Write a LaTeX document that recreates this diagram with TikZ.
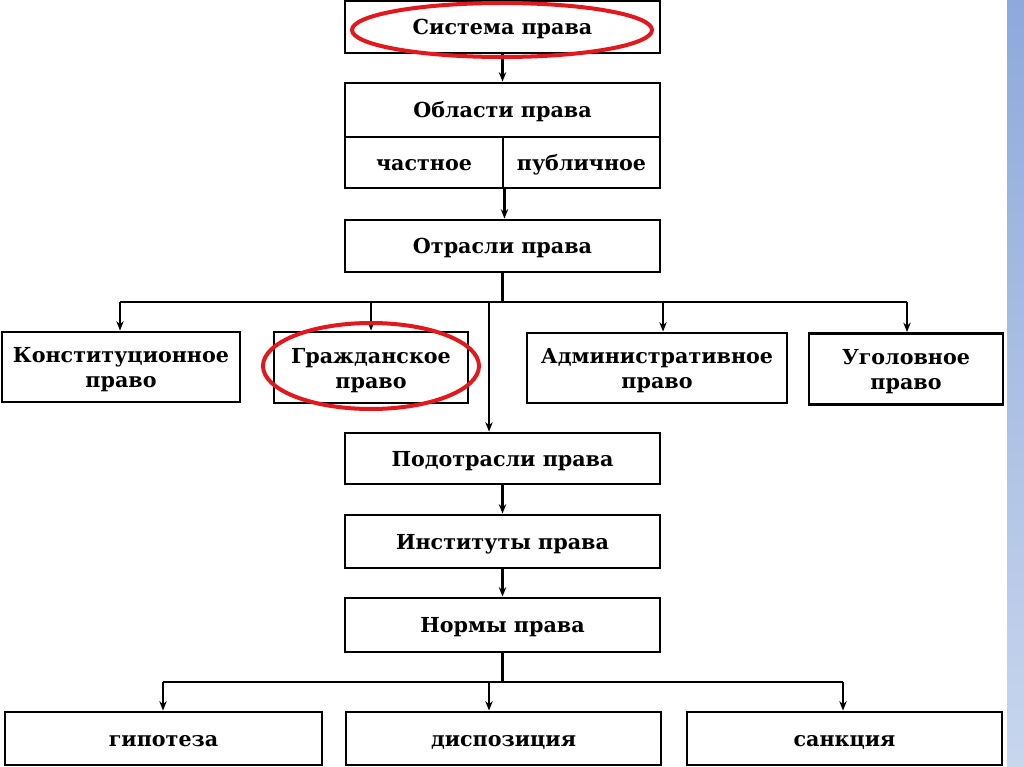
\documentclass[tikz,border=0pt]{standalone}
\usepackage{fontspec}
\setmainfont{DejaVu Serif}
\usetikzlibrary{arrows.meta}
\definecolor{stripTop}{RGB}{142,169,219}
\definecolor{stripBot}{RGB}{200,214,238}
\definecolor{ringred}{RGB}{226,24,28}
\newcommand{\toppad}{\rule{0pt}{15.5pt}}
\tikzset{
  box/.style={draw=black, line width=2.2pt, rectangle, inner sep=0pt, align=center,
    font=\fontsize{15.5}{19}\selectfont\bfseries},
  single/.style={box, text height=13pt, text depth=1.5pt},
  wire/.style={line width=2.2pt, draw=black},
  arr/.style={wire, -{Stealth[length=7pt,width=5.5pt]}},
  ring/.style={draw=ringred, line width=3pt},
}
\begin{document}
\begin{tikzpicture}[x=0.75pt,y=-0.75pt]
\useasboundingbox (0,0) rectangle (1024,767);
\fill[white] (0,0) rectangle (1024,767);
\shade[top color=stripTop, bottom color=stripBot] (1007,0) rectangle (1024,767);

% main column
\node[single, minimum width=315*0.75pt, minimum height=52*0.75pt] (sys) at (502.5,27) {Система права};
\node[single, minimum width=315*0.75pt, minimum height=54*0.75pt] (obl) at (502.5,110) {Области права};
\node[single, minimum width=158*0.75pt, minimum height=51*0.75pt] (chast) at (424,162.5) {частное};
\node[single, minimum width=157*0.75pt, minimum height=51*0.75pt] (publ) at (581.5,162.5) {публичное};
\node[single, minimum width=315*0.75pt, minimum height=52*0.75pt] (otr) at (502.5,246) {Отрасли права};

% branches
\node[box, minimum width=238*0.75pt, minimum height=70*0.75pt] (konst) at (121,367) {\toppad Конституционное\\право};
\node[box, minimum width=194*0.75pt, minimum height=71*0.75pt] (grazh) at (371,367.5) {\toppad Гражданское\\право};
\node[box, minimum width=260*0.75pt, minimum height=70*0.75pt] (adm) at (657,368) {\toppad Административное\\право};
\node[box, minimum width=194*0.75pt, minimum height=71*0.75pt] (ugol) at (906,369) {\toppad Уголовное\\право};

\node[single, minimum width=315*0.75pt, minimum height=51*0.75pt] (podotr) at (502.5,458.5) {Подотрасли права};
\node[single, minimum width=315*0.75pt, minimum height=53*0.75pt] (inst) at (502.5,541.5) {Институты права};
\node[single, minimum width=315*0.75pt, minimum height=54*0.75pt] (norm) at (502.5,625) {Нормы права};

\node[single, minimum width=317*0.75pt, minimum height=53*0.75pt] (gip) at (163.5,738.5) {гипотеза};
\node[single, minimum width=315*0.75pt, minimum height=53*0.75pt] (disp) at (503.5,738.5) {диспозиция};
\node[single, minimum width=315*0.75pt, minimum height=53*0.75pt] (sank) at (844.5,738.5) {санкция};

% bus coordinates
\coordinate (busA) at (502.5,302);
\coordinate (busAL) at (120,302);
\coordinate (busAG) at (371,302);
\coordinate (busAM) at (489,302);
\coordinate (busAD) at (663,302);
\coordinate (busAR) at (907,302);
\coordinate (busB) at (502.5,682);
\coordinate (busBL) at (163,682);
\coordinate (busBM) at (489,682);
\coordinate (busBR) at (843,682);

% connectors
\draw[arr] (sys.south) -- (obl.north);
\draw[arr] (chast.south east) -- (chast.south east |- otr.north);
\draw[wire] (otr.south) -- (busA);
\draw[wire] (busAL) -- (busAR);
\draw[arr] (busAL) -- (busAL |- konst.north);
\draw[arr] (busAG) -- (busAG |- grazh.north);
\draw[arr] (busAD) -- (busAD |- adm.north);
\draw[arr] (busAR) -- (busAR |- ugol.north);
\draw[arr] (busAM) -- (busAM |- podotr.north);
\draw[arr] (podotr.south) -- (inst.north);
\draw[arr] (inst.south) -- (norm.north);
\draw[wire] (norm.south) -- (busB);
\draw[wire] (busBL) -- (busBR);
\draw[arr] (busBL) -- (busBL |- gip.north);
\draw[arr] (busBM) -- (busBM |- disp.north);
\draw[arr] (busBR) -- (busBR |- sank.north);

% red rings
\draw[ring] (502,30) ellipse [x radius=150, y radius=27];
\draw[ring] (371,366) ellipse [x radius=108, y radius=43];
\end{tikzpicture}
\end{document}
